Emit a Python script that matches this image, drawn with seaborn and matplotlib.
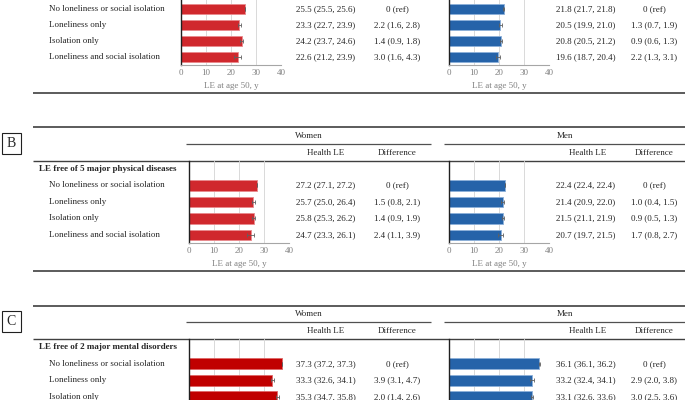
import numpy as np
import matplotlib
matplotlib.use("Agg")
import matplotlib.pyplot as plt
from matplotlib.patches import Rectangle
import seaborn as sns

W, H = 685, 400

groups = ["No loneliness or social isolation", "Loneliness only",
          "Isolation only", "Loneliness and social isolation"]

# A: LE at age 50
a_women_le = [25.5, 23.3, 24.2, 22.6]
a_women_lo = [25.5, 22.7, 23.7, 21.2]
a_women_hi = [25.6, 23.9, 24.6, 23.9]
a_women_d = [0, 2.2, 1.4, 3.0]
a_women_dlo = [0, 1.6, 0.9, 1.6]
a_women_dhi = [0, 2.8, 1.8, 4.3]
a_men_le = [21.8, 20.5, 20.8, 19.6]
a_men_lo = [21.7, 19.9, 20.5, 18.7]
a_men_hi = [21.8, 21.0, 21.2, 20.4]
a_men_d = [0, 1.3, 0.9, 2.2]
a_men_dlo = [0, 0.7, 0.6, 1.3]
a_men_dhi = [0, 1.9, 1.3, 3.1]

# B: LE free of 5 major physical diseases
b_women_le = [27.2, 25.7, 25.8, 24.7]
b_women_lo = [27.1, 25.0, 25.3, 23.3]
b_women_hi = [27.2, 26.4, 26.2, 26.1]
b_women_d = [0, 1.5, 1.4, 2.4]
b_women_dlo = [0, 0.8, 0.9, 1.1]
b_women_dhi = [0, 2.1, 1.9, 3.9]
b_men_le = [22.4, 21.4, 21.5, 20.7]
b_men_lo = [22.4, 20.9, 21.1, 19.7]
b_men_hi = [22.4, 22.0, 21.9, 21.5]
b_men_d = [0, 1.0, 0.9, 1.7]
b_men_dlo = [0, 0.4, 0.5, 0.8]
b_men_dhi = [0, 1.5, 1.3, 2.7]

# C: LE free of 2 major mental disorders (last row outside the picture)
c_women_le = [37.3, 33.3, 35.3]
c_women_lo = [37.2, 32.6, 34.7]
c_women_hi = [37.3, 34.1, 35.8]
c_women_d = [0, 3.9, 2.0]
c_women_dlo = [0, 3.1, 1.4]
c_women_dhi = [0, 4.7, 2.6]
c_men_le = [36.1, 33.2, 33.1]
c_men_lo = [36.1, 32.4, 32.6]
c_men_hi = [36.2, 34.1, 33.6]
c_men_d = [0, 2.9, 3.0]
c_men_dlo = [0, 2.0, 2.5]
c_men_dhi = [0, 3.8, 3.6]

RED = "#D0282D"
DARKRED = "#C00000"
BLUE = "#2563A9"

sns.set_style("white")
plt.rcParams["font.family"] = ["Liberation Serif", "DejaVu Serif"]
FS = 6.5

fig = plt.figure(figsize=(W / 100, H / 100), dpi=100)
bg = fig.add_axes([0, 0, 1, 1])
bg.set_xlim(0, W)
bg.set_ylim(H, 0)
bg.axis("off")


def hline(y, x0, x1, lw=1.0, c="#404040"):
    bg.plot([x0, x1], [y, y], color=c, lw=lw, solid_capstyle="butt")


def bar_panel(x0, top, step, le, lo, hi, color, edge):
    h = 5 * step
    ax = fig.add_axes([x0 / W, 1 - (top + h) / H, 100 / W, h / H])
    sns.barplot(x=le, y=groups[:len(le)], order=groups, orient="h", color=color,
                saturation=1, width=0.64, errorbar=None, edgecolor=edge,
                linewidth=0.6, ax=ax, zorder=2)
    le = np.array(le)
    ax.errorbar(le, np.arange(len(le)), xerr=[le - np.array(lo), np.array(hi) - le],
                fmt="none", ecolor="#606060", elinewidth=0.6, capsize=1.5,
                capthick=0.6, zorder=3)
    ax.set_xlim(0, 40)
    ax.set_ylim(3.5, -1.5)
    ax.set_xticks([0, 10, 20, 30, 40])
    ax.set_yticks([])
    ax.set_ylabel("")
    ax.set_axisbelow(True)
    ax.grid(axis="x", color="#D9D9D9", lw=0.7)
    ax.grid(axis="y", visible=False)
    for s in ["top", "right"]:
        ax.spines[s].set_visible(False)
    ax.spines["left"].set_color("#202020")
    ax.spines["left"].set_linewidth(1.0)
    ax.spines["bottom"].set_color("#A6A6A6")
    ax.spines["bottom"].set_linewidth(0.8)
    ax.tick_params(axis="x", direction="in", length=2.5, color="#A6A6A6",
                   labelcolor="#808080", labelsize=FS, pad=3)
    # axis labels only when the axis bottom lies inside the picture
    if top + h + 25 < H:
        ax.set_xlabel("LE at age 50, y", color="#808080", fontsize=FS, labelpad=3)
    else:
        ax.set_xlabel("")
        ax.tick_params(axis="x", labelbottom=False)
    ax.patch.set_alpha(0)
    return ax


def fmt_ci(v, lo, hi):
    return f"{v:.1f} ({lo:.1f}, {hi:.1f})"


def fmt_diff(v, lo, hi):
    if v == 0:
        return "0 (ref)"
    return f"{v:.1f} ({lo:.1f}, {hi:.1f})"


def section(top, step, wx, letter, heading, women, men, wcolor, wedge,
            draw_header=True):
    T = top - 33.3
    row0 = top + 1.5 * step
    if draw_header:
        hline(T, 33, W, lw=1.2)
        bg.add_patch(Rectangle((2, T + 5.4), 19, 21.3, fill=False, ec="#202020", lw=0.8))
        bg.text(11.5, T + 16, letter, ha="center", va="center", fontsize=10)
        bg.text(308.5, T + 8.7, "Women", ha="center", va="center", fontsize=FS)
        bg.text(565, T + 8.7, "Men", ha="center", va="center", fontsize=FS)
        hline(T + 16.4, 186, 431, lw=0.9, c="#505050")
        hline(T + 16.4, 444, W, lw=0.9, c="#505050")
        bg.text(326, T + 25.3, "Health LE", ha="center", va="center", fontsize=FS)
        bg.text(397, T + 25.3, "Difference", ha="center", va="center", fontsize=FS)
        bg.text(587.5, T + 25.3, "Health LE", ha="center", va="center", fontsize=FS)
        bg.text(654, T + 25.3, "Difference", ha="center", va="center", fontsize=FS)
        hline(top, 33, W, lw=1.0)
        bg.text(39, top + 0.5 * step, heading, ha="left", va="center",
                fontsize=FS, fontweight="bold")
    bar_panel(wx, top, step, women[0], women[1], women[2], wcolor, wedge)
    bar_panel(449, top, step, men[0], men[1], men[2], BLUE, "#8DB0DA")
    for i in range(len(women[0])):
        y = row0 + i * step
        bg.text(49, y, groups[i], ha="left", va="center", fontsize=FS)
        bg.text(296, y, fmt_ci(women[0][i], women[1][i], women[2][i]),
                ha="left", va="center", fontsize=FS)
        bg.text(397, y, fmt_diff(women[3][i], women[4][i], women[5][i]),
                ha="center", va="center", fontsize=FS)
        bg.text(556.5, y, fmt_ci(men[0][i], men[1][i], men[2][i]),
                ha="left", va="center", fontsize=FS)
        bg.text(654, y, fmt_diff(men[3][i], men[4][i], men[5][i]),
                ha="center", va="center", fontsize=FS)
    bottom = top + 5 * step
    if bottom + 28 < H:
        hline(bottom + 28, 33, W, lw=1.2)


section(-15.1, 16.07, 181, "A", "LE at age 50",
        (a_women_le, a_women_lo, a_women_hi, a_women_d, a_women_dlo, a_women_dhi),
        (a_men_le, a_men_lo, a_men_hi, a_men_d, a_men_dlo, a_men_dhi),
        RED, "#E98A8D", draw_header=False)
section(160.7, 16.5, 189, "B", "LE free of 5 major physical diseases",
        (b_women_le, b_women_lo, b_women_hi, b_women_d, b_women_dlo, b_women_dhi),
        (b_men_le, b_men_lo, b_men_hi, b_men_d, b_men_dlo, b_men_dhi),
        RED, "#E98A8D")
section(339.0, 16.5, 189, "C", "LE free of 2 major mental disorders",
        (c_women_le, c_women_lo, c_women_hi, c_women_d, c_women_dlo, c_women_dhi),
        (c_men_le, c_men_lo, c_men_hi, c_men_d, c_men_dlo, c_men_dhi),
        DARKRED, "#E06666")

fig.savefig("out.png", dpi=100)
